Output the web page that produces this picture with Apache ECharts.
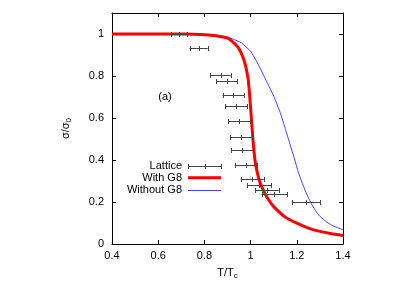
<!DOCTYPE html>
<html>
<head>
<meta charset="utf-8">
<script src="https://cdn.jsdelivr.net/npm/echarts@6/dist/echarts.min.js"></script>
<style>html,body{margin:0;padding:0;background:#fff;}#c{width:415px;height:291px;}</style>
</head>
<body>
<div id="c"></div>
<script>
// Lattice data: T/Tc, sigma/sigma0, horizontal error (half width)
const latticeX = [0.689, 0.775, 0.870, 0.897, 0.925, 0.938, 0.951, 0.960, 0.964, 0.979, 1.007, 1.038, 1.070, 1.103, 1.240];
const latticeY = [1.000, 0.932, 0.806, 0.778, 0.711, 0.659, 0.584, 0.508, 0.449, 0.375, 0.310, 0.280, 0.259, 0.238, 0.200];
const latticeErr = [0.035, 0.039, 0.044, 0.045, 0.046, 0.048, 0.048, 0.048, 0.048, 0.048, 0.050, 0.052, 0.051, 0.055, 0.062];

// With G8 curve
const withG8X = [0.4, 0.5, 0.6, 0.7, 0.75, 0.8, 0.85, 0.9, 0.93, 0.95, 0.97, 0.98, 0.99, 1.0, 1.01, 1.02, 1.03, 1.04, 1.06, 1.08, 1.1, 1.15, 1.2, 1.25, 1.3, 1.35, 1.4];
const withG8Y = [1, 1, 1, 1, 0.999, 0.997, 0.992, 0.98, 0.955, 0.93, 0.88, 0.84, 0.78, 0.65, 0.50, 0.39, 0.335, 0.295, 0.245, 0.207, 0.178, 0.128, 0.099, 0.076, 0.06, 0.049, 0.041];

// Without G8 curve
const withoutG8X = [0.4, 0.6, 0.7, 0.8, 0.85, 0.9, 0.93, 0.96, 1.0, 1.03, 1.06, 1.1, 1.13, 1.15, 1.17, 1.19, 1.21, 1.24, 1.26, 1.28, 1.3, 1.33, 1.36, 1.4];
const withoutG8Y = [1, 1, 1, 0.998, 0.994, 0.985, 0.973, 0.958, 0.918, 0.862, 0.795, 0.705, 0.62, 0.55, 0.477, 0.405, 0.33, 0.245, 0.198, 0.16, 0.132, 0.104, 0.085, 0.068];

const seriesNames = ['Lattice', 'With G8', 'Without G8'];
const panelLabel = '(a)';

const FONT = "'Liberation Sans', Arial, Helvetica, sans-serif";
const chart = echarts.init(document.getElementById('c'), null, {renderer: 'canvas'});

const zip = (xs, ys) => xs.map((x, i) => [x, ys[i]]);
const latticeData = latticeX.map((x, i) => [x, latticeY[i], latticeErr[i]]);

function fmt(v) { return String(+v.toFixed(1)); }

const errColor = '#444';

function renderErr(params, api) {
  const x = api.value(0), y = api.value(1), e = api.value(2);
  const p0 = api.coord([x - e, y]);
  const p1 = api.coord([x + e, y]);
  const pc = api.coord([x, y]);
  const yy = Math.round(pc[1]) + 0.5;
  const h = 2.5;
  const st = {stroke: errColor, lineWidth: 1};
  const vx = v => Math.round(v) + 0.5;
  return {
    type: 'group',
    children: [
      {type: 'line', shape: {x1: p0[0], y1: yy, x2: p1[0], y2: yy}, style: st},
      {type: 'line', shape: {x1: vx(p0[0]), y1: yy - h, x2: vx(p0[0]), y2: yy + h}, style: st},
      {type: 'line', shape: {x1: vx(p1[0]), y1: yy - h, x2: vx(p1[0]), y2: yy + h}, style: st},
      {type: 'line', shape: {x1: vx(pc[0]), y1: yy - h, x2: vx(pc[0]), y2: yy + h}, style: st}
    ]
  };
}

const axisCommon = {
  axisLine: {show: true, onZero: false, lineStyle: {color: '#000', width: 1}},
  axisTick: {show: true, inside: true, length: 4, lineStyle: {color: '#000'}},
  splitLine: {show: false}
};

// Legend built from series names
const legX = 182, legY0 = 166, legDy = 11.8, lx0 = 188, lx1 = 221;
const legend = [];
seriesNames.forEach((n, i) => {
  const y = legY0 + i * legDy;
  legend.push({type: 'text', x: legX, y: y, style: {text: n, font: '11px ' + FONT, fill: '#000', textAlign: 'right', textVerticalAlign: 'middle'}});
});
const ly = Math.round(legY0) + 0.5;
legend.push({type: 'line', shape: {x1: lx0, y1: ly, x2: lx1, y2: ly}, style: {stroke: errColor, lineWidth: 1}});
[lx0, (lx0 + lx1) / 2, lx1].forEach(x => {
  const xx = Math.round(x) + 0.5;
  legend.push({type: 'line', shape: {x1: xx, y1: ly - 2.5, x2: xx, y2: ly + 2.5}, style: {stroke: errColor, lineWidth: 1}});
});
legend.push({type: 'line', shape: {x1: lx0, y1: legY0 + legDy, x2: lx1, y2: legY0 + legDy}, style: {stroke: '#ff0000', lineWidth: 3}});
legend.push({type: 'line', shape: {x1: lx0, y1: Math.round(legY0 + 2 * legDy) + 0.5, x2: lx1, y2: Math.round(legY0 + 2 * legDy) + 0.5}, style: {stroke: '#4040ff', lineWidth: 1}});
legend.push({type: 'text', x: 165, y: 97, style: {text: panelLabel, font: '11px ' + FONT, fill: '#000', textAlign: 'center', textVerticalAlign: 'middle'}});

chart.setOption({
  animation: false,
  backgroundColor: '#fff',
  textStyle: {fontFamily: FONT},
  grid: {left: 112, right: 72, top: 13, bottom: 47, containLabel: false},
  xAxis: [
    Object.assign({}, axisCommon, {
      type: 'value', position: 'bottom', min: 0.4, max: 1.4, interval: 0.2,
      axisLabel: {color: '#000', fontSize: 11, fontFamily: FONT, margin: 6, formatter: fmt, showMinLabel: true, showMaxLabel: true},
      name: '{a|T/T}{s|c}', nameLocation: 'middle', nameGap: 22,
      nameTextStyle: {rich: {a: {fontSize: 11, fontFamily: FONT, color: '#000', lineHeight: 14}, s: {fontSize: 8, fontFamily: FONT, color: '#000', lineHeight: 14, padding: [6, 0, 0, 0]}}}
    }),
    Object.assign({}, axisCommon, {
      type: 'value', position: 'top', min: 0.4, max: 1.4, interval: 0.2,
      axisLabel: {show: false}
    })
  ],
  yAxis: [
    Object.assign({}, axisCommon, {
      type: 'value', position: 'left', min: 0, max: 1.1, interval: 0.2,
      axisLabel: {color: '#000', fontSize: 11, fontFamily: FONT, margin: 8, formatter: v => v > 1.05 ? '' : fmt(v)},
      name: '{a|σ/σ}{s|0}', nameLocation: 'middle', nameGap: 39, nameRotate: 90,
      nameTextStyle: {rich: {a: {fontSize: 11, fontFamily: FONT, color: '#000', lineHeight: 14}, s: {fontSize: 8, fontFamily: FONT, color: '#000', lineHeight: 14, padding: [6, 0, 0, 0]}}}
    }),
    Object.assign({}, axisCommon, {
      type: 'value', position: 'right', min: 0, max: 1.1, interval: 0.2,
      axisLabel: {show: false}
    })
  ],
  graphic: legend,
  series: [
    {
      name: seriesNames[2], type: 'line', data: zip(withoutG8X, withoutG8Y),
      showSymbol: false, smooth: 0.15,
      lineStyle: {color: '#4040ff', width: 1}, z: 2
    },
    {
      name: seriesNames[1], type: 'line', data: zip(withG8X, withG8Y),
      showSymbol: false, smooth: 0.15,
      lineStyle: {color: '#ff0000', width: 3}, z: 3
    },
    {
      name: seriesNames[0], type: 'custom', data: latticeData,
      renderItem: renderErr, encode: {x: 0, y: 1}, z: 4
    }
  ]
});
</script>
</body>
</html>
